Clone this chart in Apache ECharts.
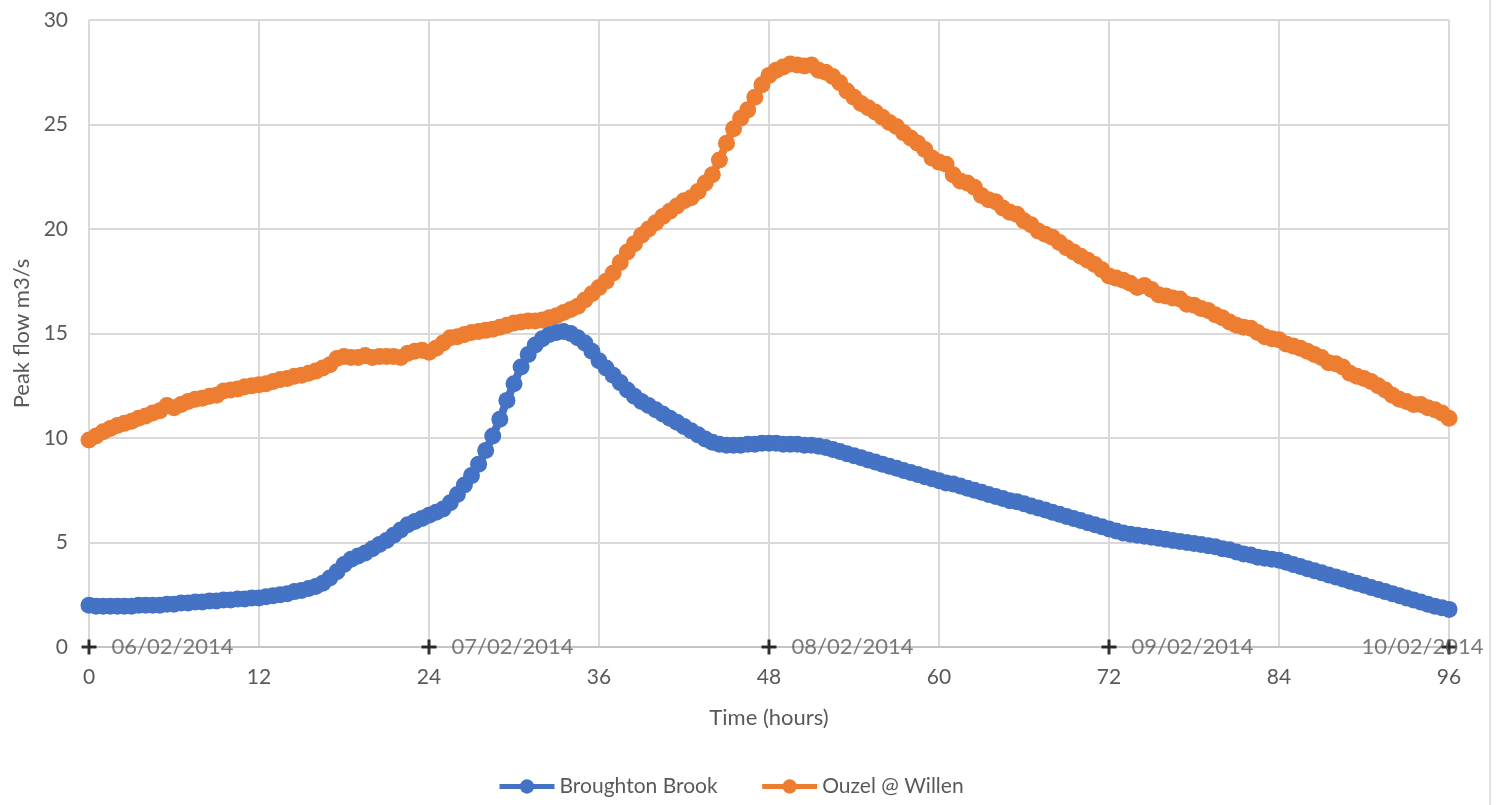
<!DOCTYPE html>
<html>
<head>
<meta charset="utf-8">
<title>Peak flow</title>
<script src="https://cdn.jsdelivr.net/npm/echarts@6/dist/echarts.min.js"></script>
<style>
  html, body { margin: 0; padding: 0; background: #ffffff; }
  #chart { width: 1499px; height: 805px; }
</style>
</head>
<body>
<div id="chart"></div>
<script>
// Half-hourly readings, 0 h to 96 h (193 samples each)
const stepHours = 0.5;

const broughtonBrook = [
  2.0,1.95,1.95,1.95,1.95,1.95,1.95,2.0,2.0,2.0,2.0,2.05,2.05,2.1,2.1,2.15,2.15,2.2,2.2,2.25,2.25,2.3,2.3,2.35,
  2.35,2.4,2.45,2.5,2.55,2.65,2.7,2.8,2.9,3.05,3.3,3.6,3.95,4.2,4.35,4.5,4.7,4.9,5.1,5.35,5.6,5.85,6.0,6.15,
  6.3,6.45,6.6,6.9,7.3,7.75,8.2,8.75,9.4,10.1,10.9,11.8,12.6,13.4,14.0,14.45,14.75,14.95,15.05,15.1,15.0,14.8,14.55,14.15,
  13.7,13.35,13.0,12.65,12.3,12.0,11.75,11.55,11.35,11.15,10.95,10.75,10.55,10.35,10.15,9.95,9.8,9.7,9.65,9.65,9.65,9.7,9.7,9.75,
  9.75,9.75,9.7,9.7,9.7,9.65,9.65,9.6,9.55,9.45,9.35,9.25,9.15,9.05,8.95,8.85,8.75,8.65,8.55,8.45,8.35,8.25,8.15,8.05,
  7.95,7.85,7.8,7.7,7.6,7.5,7.4,7.3,7.2,7.1,7.0,6.95,6.85,6.75,6.65,6.55,6.45,6.35,6.25,6.15,6.05,5.95,5.85,5.75,
  5.65,5.55,5.45,5.4,5.35,5.3,5.25,5.2,5.15,5.1,5.05,5.0,4.95,4.9,4.85,4.8,4.7,4.65,4.55,4.45,4.4,4.3,4.25,4.2,
  4.15,4.05,3.95,3.85,3.75,3.65,3.55,3.45,3.35,3.25,3.15,3.05,2.95,2.85,2.75,2.65,2.55,2.45,2.35,2.25,2.15,2.05,1.95,1.88,
  1.8
];

const ouzelWillen = [
  9.9,10.1,10.3,10.45,10.6,10.7,10.8,10.95,11.05,11.2,11.3,11.55,11.45,11.6,11.75,11.85,11.9,12.0,12.05,12.25,12.3,12.35,12.45,12.5,
  12.55,12.6,12.7,12.8,12.85,12.95,13.0,13.1,13.2,13.35,13.5,13.8,13.9,13.85,13.85,13.95,13.85,13.9,13.9,13.9,13.85,14.05,14.15,14.2,
  14.1,14.3,14.55,14.8,14.85,14.95,15.05,15.1,15.15,15.2,15.3,15.4,15.5,15.55,15.6,15.6,15.65,15.75,15.85,16.0,16.15,16.3,16.6,16.9,
  17.2,17.5,17.9,18.4,18.9,19.3,19.7,20.0,20.3,20.6,20.85,21.1,21.35,21.5,21.8,22.2,22.6,23.3,24.1,24.8,25.3,25.7,26.3,26.9,
  27.35,27.6,27.75,27.9,27.85,27.8,27.85,27.6,27.5,27.3,27.0,26.6,26.3,26.0,25.8,25.6,25.35,25.1,24.9,24.6,24.35,24.1,23.8,23.4,
  23.2,23.1,22.6,22.3,22.2,22.0,21.6,21.4,21.3,21.0,20.8,20.7,20.4,20.2,19.9,19.75,19.6,19.35,19.1,18.9,18.7,18.5,18.3,18.05,
  17.75,17.65,17.55,17.4,17.2,17.3,17.1,16.85,16.8,16.7,16.65,16.4,16.35,16.2,16.1,15.9,15.75,15.55,15.4,15.3,15.25,15.05,14.85,14.75,
  14.7,14.5,14.4,14.3,14.15,14.0,13.85,13.6,13.55,13.4,13.1,12.95,12.85,12.7,12.5,12.3,12.05,11.85,11.75,11.6,11.6,11.45,11.35,11.2,
  10.95
];

// Midnight markers along the time axis
const dayHours = [0, 24, 48, 72, 96];
const dayLabels = ['06/02/2014', '07/02/2014', '08/02/2014', '09/02/2014', '10/02/2014'];

const seriesNames = ['Broughton Brook', 'Ouzel @ Willen'];

const FONT = 'Lato, "Open Sans", sans-serif';
const TEXT_GREY = '#595959';
const GRID_GREY = '#d9d9d9';

const toPairs = arr => arr.map((v, i) => [i * stepHours, v]);

const plusSymbol = 'path://M4,0H6V4H10V6H6V10H4V6H0V4H4Z';

const dayPoints = dayHours.map((h, i) => {
  const item = { value: [h, 0], name: dayLabels[i] };
  if (i === dayHours.length - 1) {
    item.label = { offset: [-110, 0] };
  }
  return item;
});

const chart = echarts.init(document.getElementById('chart'), null, { renderer: 'canvas' });

chart.setOption({
  animation: false,
  backgroundColor: '#ffffff',
  textStyle: { fontFamily: FONT },
  grid: { left: 89, right: 50, top: 20, bottom: 158, containLabel: false },
  legend: {
    data: seriesNames,
    left: 497,
    top: 776,
    padding: 0,
    itemWidth: 55,
    itemHeight: 18,
    itemGap: 42,
    lineStyle: { width: 5 },
    textStyle: { fontFamily: FONT, fontSize: 21, color: TEXT_GREY }
  },
  xAxis: {
    type: 'value',
    min: 0,
    max: 96,
    interval: 12,
    name: 'Time (hours)',
    nameLocation: 'middle',
    nameGap: 60,
    nameTextStyle: { fontFamily: FONT, fontSize: 22, color: TEXT_GREY },
    axisLine: { show: true, lineStyle: { color: '#bfbfbf', width: 1.5 } },
    axisTick: { show: false },
    axisLabel: { fontFamily: FONT, fontSize: 21, color: TEXT_GREY, margin: 20 },
    splitLine: { show: true, lineStyle: { color: GRID_GREY, width: 2 } }
  },
  yAxis: {
    type: 'value',
    min: 0,
    max: 30,
    interval: 5,
    name: 'Peak flow m3/s',
    nameLocation: 'middle',
    nameGap: 56,
    nameTextStyle: { fontFamily: FONT, fontSize: 22, color: TEXT_GREY },
    axisLine: { show: false },
    axisTick: { show: false },
    axisLabel: { fontFamily: FONT, fontSize: 21, color: TEXT_GREY, margin: 21 },
    splitLine: { show: true, lineStyle: { color: GRID_GREY, width: 2 } }
  },
  series: [
    {
      name: seriesNames[0],
      type: 'line',
      data: toPairs(broughtonBrook),
      color: '#4472c4',
      symbol: 'circle',
      symbolSize: 17,
      showAllSymbol: true,
      lineStyle: { width: 8, color: '#4472c4' },
      itemStyle: { color: '#4472c4' },
      z: 3
    },
    {
      name: seriesNames[1],
      type: 'line',
      data: toPairs(ouzelWillen),
      color: '#ed7d31',
      symbol: 'circle',
      symbolSize: 17,
      showAllSymbol: true,
      lineStyle: { width: 8, color: '#ed7d31' },
      itemStyle: { color: '#ed7d31' },
      z: 3
    },
    {
      name: 'Days',
      type: 'scatter',
      data: dayPoints,
      symbol: plusSymbol,
      symbolSize: 15,
      itemStyle: { color: '#000000' },
      label: {
        show: true,
        position: 'right',
        distance: 15,
        formatter: p => p.name,
        fontFamily: FONT,
        fontSize: 22,
        color: TEXT_GREY
      },
      z: 4
    }
  ],
  graphic: [
    {
      type: 'line',
      shape: { x1: 1490, y1: 0, x2: 1490, y2: 805 },
      style: { stroke: '#d9d9d9', lineWidth: 1.5 },
      silent: true
    }
  ]
});
</script>
</body>
</html>
